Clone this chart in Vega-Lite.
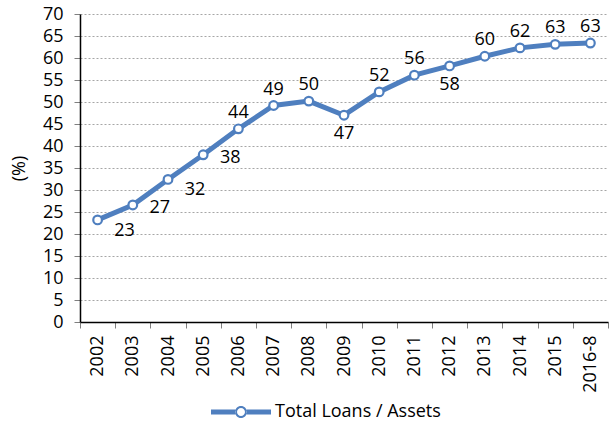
{
  "$schema": "https://vega.github.io/schema/vega-lite/v6.json",
  "width": 528,
  "height": 308,
  "autosize": {"type": "none"},
  "padding": {"left": 80, "top": 14, "right": 3, "bottom": 105},
  "background": "white",
  "config": {
    "view": {"stroke": null},
    "font": "Open Sans",
    "axis": {"labelFont": "Open Sans", "titleFont": "Open Sans"},
    "legend": {"labelFont": "Open Sans"}
  },
  "data": {
    "values": [
      {"year": "2002", "value": 23.2, "series": "Total Loans / Assets"},
      {"year": "2003", "value": 26.6, "series": "Total Loans / Assets"},
      {"year": "2004", "value": 32.4, "series": "Total Loans / Assets"},
      {"year": "2005", "value": 38.0, "series": "Total Loans / Assets"},
      {"year": "2006", "value": 43.9, "series": "Total Loans / Assets"},
      {"year": "2007", "value": 49.2, "series": "Total Loans / Assets"},
      {"year": "2008", "value": 50.2, "series": "Total Loans / Assets"},
      {"year": "2009", "value": 47.0, "series": "Total Loans / Assets"},
      {"year": "2010", "value": 52.3, "series": "Total Loans / Assets"},
      {"year": "2011", "value": 56.1, "series": "Total Loans / Assets"},
      {"year": "2012", "value": 58.2, "series": "Total Loans / Assets"},
      {"year": "2013", "value": 60.4, "series": "Total Loans / Assets"},
      {"year": "2014", "value": 62.3, "series": "Total Loans / Assets"},
      {"year": "2015", "value": 63.1, "series": "Total Loans / Assets"},
      {"year": "2016-8", "value": 63.4, "series": "Total Loans / Assets"}
    ]
  },
  "encoding": {
    "x": {
      "field": "year",
      "type": "nominal",
      "sort": null,
      "scale": {"type": "band", "paddingInner": 0, "paddingOuter": 0},
      "axis": {
        "title": null,
        "labelAngle": -90,
        "labelAlign": "right",
        "labelBaseline": "middle",
        "labelFontSize": 18,
        "labelColor": "#000000",
        "labelPadding": 7,
        "tickBand": "extent",
        "ticks": true,
        "tickSize": 6,
        "tickColor": "#7f7f7f",
        "domainColor": "#000000",
        "domainWidth": 1.5,
        "grid": false
      }
    },
    "y": {
      "field": "value",
      "type": "quantitative",
      "scale": {"domain": [0, 70], "nice": false},
      "axis": {
        "title": "(%)",
        "titleFontSize": 18,
        "titleFontWeight": "normal",
        "titleColor": "#000000",
        "titlePadding": 14,
        "values": [0, 5, 10, 15, 20, 25, 30, 35, 40, 45, 50, 55, 60, 65, 70],
        "labelFontSize": 18,
        "labelColor": "#000000",
        "labelPadding": 11,
        "tickSize": 6,
        "tickColor": "#7f7f7f",
        "domainColor": "#000000",
        "domainWidth": 1.5,
        "grid": true,
        "gridColor": "#a6a6a6",
        "gridDash": [2, 2],
        "gridWidth": 1
      }
    }
  },
  "layer": [
    {
      "mark": {"type": "line", "strokeWidth": 5},
      "encoding": {
        "color": {
          "field": "series",
          "type": "nominal",
          "scale": {"range": ["#4f7fbf"]},
          "legend": {
            "title": null,
            "orient": "none",
            "legendX": 131,
            "legendY": 368,
            "direction": "horizontal",
            "labelFontSize": 18,
            "labelLimit": 400,
            "labelColor": "#000000",
            "symbolType": "M-1,-0.08H-0.19V0.08H-1Z M0.19,-0.08H1V0.08H0.19Z M-0.2,0A0.2,0.2 0 1,0 0.2,0A0.2,0.2 0 1,0 -0.2,0Z M-0.133,0A0.133,0.133 0 1,1 0.133,0A0.133,0.133 0 1,1 -0.133,0Z",
            "symbolSize": 3600,
            "labelOffset": 4,
            "encode": {
              "symbols": {
                "update": {
                  "fill": {"value": "#4f7fbf"},
                  "stroke": {"value": "#4f7fbf"},
                  "strokeWidth": {"value": 0},
                  "opacity": {"value": 1}
                }
              }
            }
          }
        }
      }
    },
    {
      "mark": {"type": "point", "shape": "circle", "filled": true, "fill": "white", "stroke": "#4f7fbf", "strokeWidth": 2.2, "size": 75, "opacity": 1},
      "encoding": {}
    },
    {
      "transform": [{"filter": {"field": "year", "oneOf": ["2006", "2007", "2008", "2010", "2011", "2013", "2014", "2015", "2016-8"]}}],
      "mark": {"type": "text", "fontSize": 18, "dy": -16, "color": "#000000"},
      "encoding": {"text": {"field": "value", "type": "quantitative", "format": ".0f"}}
    },
    {
      "transform": [{"filter": {"field": "year", "oneOf": ["2009", "2012"]}}],
      "mark": {"type": "text", "fontSize": 18, "dy": 19, "color": "#000000"},
      "encoding": {"text": {"field": "value", "type": "quantitative", "format": ".0f"}}
    },
    {
      "transform": [{"filter": {"field": "year", "oneOf": ["2002", "2004"]}}],
      "mark": {"type": "text", "fontSize": 18, "dx": 27, "dy": 11, "color": "#000000"},
      "encoding": {"text": {"field": "value", "type": "quantitative", "format": ".0f"}}
    },
    {
      "transform": [{"filter": {"field": "year", "oneOf": ["2003", "2005"]}}],
      "mark": {"type": "text", "fontSize": 18, "dx": 27, "dy": 3, "color": "#000000"},
      "encoding": {"text": {"field": "value", "type": "quantitative", "format": ".0f"}}
    }
  ]
}
